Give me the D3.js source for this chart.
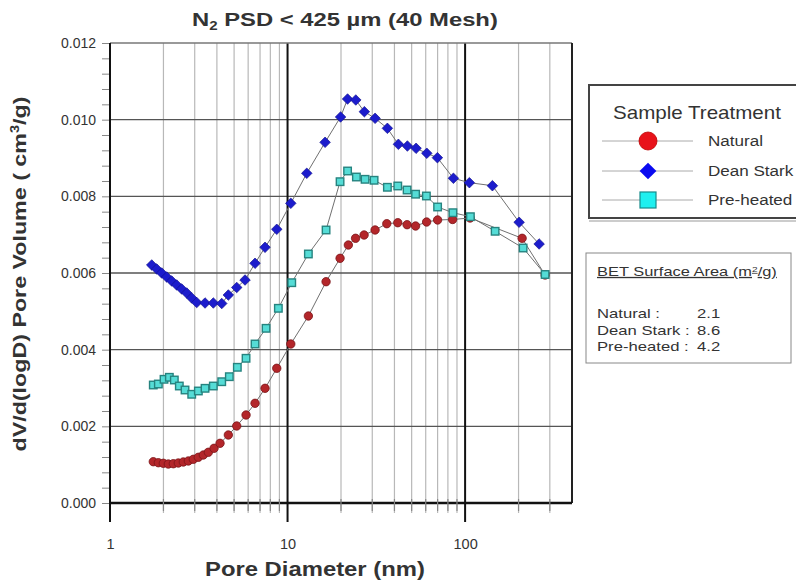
<!DOCTYPE html>
<html>
<head>
<meta charset="utf-8">
<script src="https://cdn.jsdelivr.net/npm/d3@7"></script>
<style>
  body { margin: 0; background: #fff; }
  svg text { font-family: Arial, "Liberation Sans", sans-serif; }
</style>
</head>
<body>
<div id="chart"></div>
<script>
// series names (legend + BET box)
var seriesNames = ["Natural", "Dean Stark", "Pre-heated"];
var betValues = ["2.1", "8.6", "4.2"];

// Natural (red circles)
var naturalD = [1.753, 1.872, 1.997, 2.131, 2.274, 2.425, 2.588, 2.762, 2.947, 3.145, 3.355, 3.580, 3.855, 4.166, 4.640, 5.173, 5.838, 6.559, 7.468, 8.694, 10.43, 13.10, 16.48, 19.76, 22.00, 24.16, 26.98, 31.12, 36.22, 41.77, 47.12, 52.62, 60.70, 70.00, 85.04, 106.7, 209.5, 282.3];
var naturalV = [0.001077, 0.001051, 0.001036, 0.001017, 0.001025, 0.001043, 0.001070, 0.001096, 0.001140, 0.001192, 0.001252, 0.001323, 0.001427, 0.001557, 0.001774, 0.002009, 0.002296, 0.002601, 0.002992, 0.003514, 0.004148, 0.004878, 0.005773, 0.006383, 0.006730, 0.006905, 0.006991, 0.007122, 0.007286, 0.007312, 0.007260, 0.007226, 0.007330, 0.007383, 0.007396, 0.007435, 0.006905, 0.005948];

// Dean Stark (blue diamonds)
var deanD = [1.718, 1.833, 1.956, 2.086, 2.227, 2.375, 2.535, 2.705, 2.886, 3.079, 3.430, 3.819, 4.259, 4.640, 5.173, 5.762, 6.559, 7.468, 8.694, 10.43, 12.83, 16.27, 19.89, 21.78, 24.23, 27.08, 31.12, 36.50, 42.10, 47.31, 52.96, 60.85, 69.82, 85.93, 105.7, 142.5, 201.5, 261.2];
var deanV = [0.006209, 0.006104, 0.006000, 0.005896, 0.005791, 0.005687, 0.005583, 0.005478, 0.005348, 0.005230, 0.005217, 0.005217, 0.005204, 0.005426, 0.005622, 0.005817, 0.006253, 0.006670, 0.007140, 0.007818, 0.008601, 0.009409, 0.010070, 0.010539, 0.010513, 0.010208, 0.010035, 0.009774, 0.009357, 0.009313, 0.009253, 0.009123, 0.009008, 0.008471, 0.008356, 0.008277, 0.007323, 0.006757];

// Pre-heated (cyan squares)
var preD = [1.753, 1.872, 2.015, 2.159, 2.303, 2.457, 2.646, 2.886, 3.145, 3.430, 3.819, 4.259, 4.700, 5.214, 5.838, 6.559, 7.566, 8.876, 10.56, 13.10, 16.48, 19.76, 21.78, 24.42, 27.33, 30.72, 36.50, 41.77, 47.12, 52.62, 60.53, 70.00, 85.37, 107.1, 147.6, 212.2, 282.3];
var preV = [0.003078, 0.003104, 0.003227, 0.003279, 0.003209, 0.003052, 0.002948, 0.002836, 0.002922, 0.002992, 0.003052, 0.003164, 0.003295, 0.003540, 0.003775, 0.004148, 0.004557, 0.005079, 0.005747, 0.006496, 0.007122, 0.008382, 0.008661, 0.008504, 0.008444, 0.008419, 0.008236, 0.008270, 0.008165, 0.008056, 0.008009, 0.007722, 0.007573, 0.007469, 0.007088, 0.006652, 0.005961];

// axis ticks
var xMajorTicks = [1, 10, 100];
var xMinorTicks = [2, 3, 4, 5, 6, 7, 8, 9, 20, 30, 40, 50, 60, 70, 80, 90, 200, 300];
var yMajorTicks = [0, 0.002, 0.004, 0.006, 0.008, 0.010, 0.012];

var W = 796, H = 584;
var margin = { top: 43, right: 224, bottom: 81, left: 110 };
var width = W - margin.left - margin.right,
  height = H - margin.top - margin.bottom;

var svg = d3.select("#chart").append("svg")
  .attr("width", W)
  .attr("height", H);

// the source picture uses a wider face than Arial, so stretch text
// horizontally until it spans the same width
function stretchTo(g, tx, ty, targetW, rot) {
  var box = g.node().getBBox();
  var k = targetW / box.width;
  g.attr("transform", "translate(" + tx + "," + ty + ")" + (rot ? " rotate(" + rot + ")" : "") + " scale(" + k + ",1)");
  return k;
}

// set the ranges
var x = d3.scaleLog().domain([1, 400]).range([margin.left, margin.left + width]);
var y = d3.scaleLinear().domain([0, 0.012]).range([margin.top + height, margin.top]);

var x0 = x.range()[0], x1 = x.range()[1];
var y0 = y.range()[0], y1 = y.range()[1];

// minor vertical grid
svg.append("g").selectAll("line")
  .data(xMinorTicks)
  .join("line")
  .attr("x1", function (d) { return x(d); })
  .attr("x2", function (d) { return x(d); })
  .attr("y1", y1).attr("y2", y0 + 10)
  .attr("stroke", "#b8b8b8")
  .attr("stroke-width", 1.2);

// horizontal grid
svg.append("g").selectAll("line")
  .data(yMajorTicks.slice(1, -1))
  .join("line")
  .attr("x1", x0).attr("x2", x1)
  .attr("y1", function (d) { return y(d); })
  .attr("y2", function (d) { return y(d); })
  .attr("stroke", "#555")
  .attr("stroke-width", 1.4);

// major vertical lines at decades
svg.append("g").selectAll("line")
  .data(xMajorTicks)
  .join("line")
  .attr("x1", function (d) { return x(d); })
  .attr("x2", function (d) { return x(d); })
  .attr("y1", y1).attr("y2", y0 + 19)
  .attr("stroke", "#111")
  .attr("stroke-width", 2);

// frame
svg.append("line").attr("x1", x0).attr("x2", x1).attr("y1", y1).attr("y2", y1)
  .attr("stroke", "#777").attr("stroke-width", 1.5);
svg.append("line").attr("x1", x1).attr("x2", x1).attr("y1", y1).attr("y2", y0)
  .attr("stroke", "#222").attr("stroke-width", 2);
svg.append("line").attr("x1", x0).attr("x2", x1).attr("y1", y0).attr("y2", y0)
  .attr("stroke", "#111").attr("stroke-width", 2.5);
svg.append("line").attr("x1", x0).attr("x2", x0).attr("y1", y1).attr("y2", y0)
  .attr("stroke", "#111").attr("stroke-width", 2);

// y axis ticks and labels
var yAxis = d3.axisLeft(y)
  .tickValues(d3.range(0, 0.01201, 0.0004))
  .tickSize(7)
  .tickFormat(function (d) {
    var hit = yMajorTicks.some(function (t) { return Math.abs(t - d) < 1e-9; });
    return hit ? d3.format(".3f")(d) : "";
  });
var gy = svg.append("g")
  .attr("transform", "translate(" + (x0 - 1) + ",0)")
  .call(yAxis);
gy.select(".domain").remove();
gy.selectAll(".tick line").attr("stroke", "#888");
gy.selectAll(".tick text")
  .attr("fill", "#333")
  .style("font-size", "14px")
  .attr("x", -13);

// x axis labels
var xAxis = d3.axisBottom(x)
  .tickValues(xMajorTicks)
  .tickSize(0)
  .tickFormat(d3.format("d"));
var gx = svg.append("g")
  .attr("transform", "translate(0," + y0 + ")")
  .call(xAxis);
gx.select(".domain").remove();
gx.selectAll(".tick text")
  .attr("fill", "#333")
  .attr("y", 36)
  .style("font-size", "14.5px");

// little minor tick marks across the axis
svg.append("g").selectAll("line")
  .data(xMinorTicks)
  .join("line")
  .attr("x1", function (d) { return x(d); })
  .attr("x2", function (d) { return x(d); })
  .attr("y1", y0 - 4).attr("y2", y0 + 8)
  .attr("stroke", "#888")
  .attr("stroke-width", 1.2);

// define the line
var valueline = d3.line()
  .x(function (d) { return x(d[0]); })
  .y(function (d) { return y(d[1]); });

var natural = d3.zip(naturalD, naturalV),
  dean = d3.zip(deanD, deanV),
  pre = d3.zip(preD, preV);

[natural, dean, pre].forEach(function (s) {
  svg.append("path")
    .datum(s)
    .attr("fill", "none")
    .attr("stroke", "#707070")
    .attr("stroke-width", 1)
    .attr("d", valueline);
});

// markers
svg.append("g").selectAll("circle")
  .data(natural)
  .join("circle")
  .attr("cx", function (d) { return x(d[0]); })
  .attr("cy", function (d) { return y(d[1]); })
  .attr("r", 4.2)
  .attr("fill", "#b3262a")
  .attr("stroke", "#7a1418")
  .attr("stroke-width", 0.8);

var diamond = d3.symbol().type(d3.symbolSquare).size(56);
svg.append("g").selectAll("path")
  .data(dean)
  .join("path")
  .attr("d", diamond)
  .attr("transform", function (d) { return "translate(" + x(d[0]) + "," + y(d[1]) + ") rotate(45)"; })
  .attr("fill", "#1c1ccc")
  .attr("stroke", "#10108a")
  .attr("stroke-width", 0.6);

svg.append("g").selectAll("rect")
  .data(pre)
  .join("rect")
  .attr("x", function (d) { return x(d[0]) - 3.75; })
  .attr("y", function (d) { return y(d[1]) - 3.75; })
  .attr("width", 7.5)
  .attr("height", 7.5)
  .attr("fill", "#55dcd6")
  .attr("stroke", "#26837f")
  .attr("stroke-width", 1.4);

// title
var gTitle = svg.append("g");
var title = gTitle.append("text")
  .attr("fill", "#333")
  .style("font-size", "19px")
  .style("font-weight", "bold");
title.append("tspan").text("N");
title.append("tspan").attr("dy", 4).style("font-size", "12px").text("2");
title.append("tspan").attr("dy", -4).text(" PSD < 425 \u00b5m (40 Mesh)");
stretchTo(gTitle, 192, 26, 306);

// axis titles
var gXt = svg.append("g");
gXt.append("text")
  .attr("fill", "#333")
  .style("font-size", "21px")
  .style("font-weight", "bold")
  .text("Pore Diameter (nm)");
stretchTo(gXt, 205, 576, 220);

var gYt = svg.append("g");
var ylab = gYt.append("text")
  .attr("text-anchor", "middle")
  .attr("fill", "#333")
  .style("font-size", "19px")
  .style("font-weight", "bold");
ylab.append("tspan").text("dV/d(logD) Pore Volume ( cm");
ylab.append("tspan").attr("dy", -7).style("font-size", "12px").text("3");
ylab.append("tspan").attr("dy", 7).text("/g)");
stretchTo(gYt, 26, 274, 355, -90);

// legend
var legend = svg.append("g");
legend.append("rect")
  .attr("x", 589).attr("y", 85)
  .attr("width", 220).attr("height", 133)
  .attr("fill", "#fff")
  .attr("stroke", "#444")
  .attr("stroke-width", 2);
legend.append("line")
  .attr("x1", 589).attr("x2", 800).attr("y1", 221).attr("y2", 221)
  .attr("stroke", "#999").attr("stroke-width", 1);
var gLt = legend.append("g");
gLt.append("text")
  .attr("fill", "#333")
  .style("font-size", "18px")
  .text("Sample Treatment");
stretchTo(gLt, 613, 119, 168);

var rowY = [141, 171, 200];
var kItem = null;
seriesNames.forEach(function (name, i) {
  var g = legend.append("g").attr("transform", "translate(0," + rowY[i] + ")");
  g.append("line").attr("x1", 602).attr("x2", 693).attr("y1", 0).attr("y2", 0)
    .attr("stroke", "#aaa").attr("stroke-width", 1);
  if (i === 0) {
    g.append("circle").attr("cx", 648).attr("cy", 0).attr("r", 9)
      .attr("fill", "#e8121a").attr("stroke", "#b00").attr("stroke-width", 0.8);
  } else if (i === 1) {
    g.append("path").attr("d", d3.symbol().type(d3.symbolSquare).size(140))
      .attr("transform", "translate(648,0) rotate(45)")
      .attr("fill", "#0a0af0");
  } else {
    g.append("rect").attr("x", 640).attr("y", -8).attr("width", 16).attr("height", 16)
      .attr("fill", "#1ff0f0").attr("stroke", "#168c8c").attr("stroke-width", 1.2);
  }
  var gt = g.append("g");
  gt.append("text")
    .attr("fill", "#333")
    .style("font-size", "15px")
    .text(name);
  if (kItem === null) {
    kItem = stretchTo(gt, 708, 5, 55);
  } else {
    gt.attr("transform", "translate(708,5) scale(" + kItem + ",1)");
  }
});

// BET surface area box
var bet = svg.append("g");
bet.append("rect")
  .attr("x", 586).attr("y", 253)
  .attr("width", 205).attr("height", 110)
  .attr("fill", "#fff")
  .attr("stroke", "#888")
  .attr("stroke-width", 1);
var gBt = bet.append("g");
var betTitle = gBt.append("text")
  .attr("fill", "#333")
  .style("font-size", "13px")
  .style("text-decoration", "underline");
betTitle.append("tspan").text("BET Surface Area (m");
betTitle.append("tspan").attr("dy", -4).style("font-size", "8px").text("2");
betTitle.append("tspan").attr("dy", 4).text("/g)");
stretchTo(gBt, 597, 276, 180);

var kBet = null;
seriesNames.forEach(function (name, i) {
  var gl = bet.append("g");
  gl.append("text")
    .attr("fill", "#333")
    .style("font-size", "13px")
    .text(name + " :");
  if (kBet === null) {
    kBet = stretchTo(gl, 597, 318 + i * 16.5, 63);
  } else {
    gl.attr("transform", "translate(597," + (318 + i * 16.5) + ") scale(" + kBet + ",1)");
  }
  bet.append("g")
    .attr("transform", "translate(697," + (318 + i * 16.5) + ") scale(" + kBet + ",1)")
    .append("text")
    .attr("fill", "#333")
    .style("font-size", "13px")
    .text(betValues[i]);
});
</script>
</body>
</html>
